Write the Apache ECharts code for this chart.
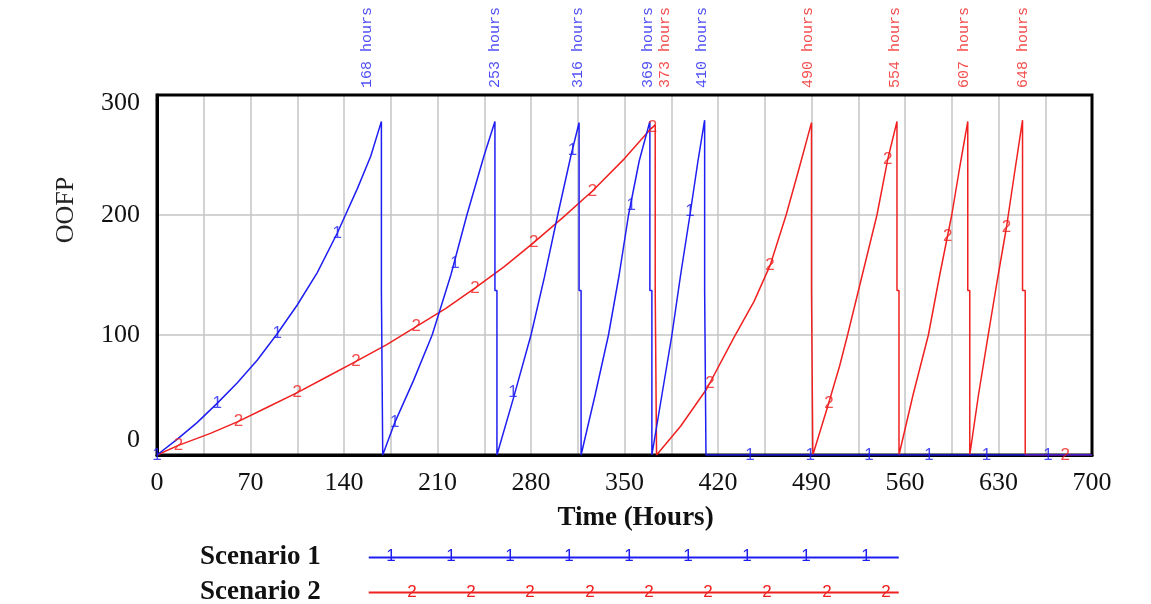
<!DOCTYPE html>
<html><head><meta charset="utf-8">
<script src="https://cdn.jsdelivr.net/npm/echarts@6/dist/echarts.min.js"></script>
<style>html,body{margin:0;padding:0;background:#fff}#c{width:1151px;height:604px}</style>
</head><body><div id="c"></div>
<script>
// ---- data ----
const scenario1Hours = [0,15,30,45,60,75,90,105,120,135,150,160,168,168,169,169,
  178,192,206,220,232,245,253,253,254.5,254.5,
  267,280,290,300,310,316,316,317.5,317.5,
  328,338,346,353,361,369,369,370.5,370.5,
  378,385.5,392,399,405,410,410,411,411,700];
const scenario1OOFP = [0,13,27,43,60,79,101,125,152,185,222,249,278,137,137,0,
  27,62,100,150,200,250,278,137,137,0,
  48,100,148,200,250,277,137,137,0,
  50,100,150,200,245,278,137,137,0,
  50,100,150,200,245,279,137,137,0,0];

const scenario2Hours = [0,16,40,61,83,105,127,149,172,194,216,238,260,282,304,326,350,369,373,373,374,374,
  392,411.5,432,447,459,471,481,490,490,491,491,
  502,511,517,528,539,547,554,554,555.5,555.5,
  566,577.5,586,595,601,607,607,608.5,608.5,
  615,622,629,636,642,648,648,650,650,700];
const scenario2OOFP = [0,8,18,28,40,52,65,78,92,107,122,139,157,177,198,220,247,271,275,137,137,0,
  24,55,98,128,158,200,240,277,137,137,0,
  40,74,100,150,200,246,278,137,137,0,
  50,100,150,200,240,278,137,137,0,
  50,98,145,190,235,279,137,137,0,0];

const scenario1MarkerHours = [0,45,90,135,178,223,266.5,311,355,399,444,489,533,578,621,667];
const scenario1MarkerOOFP  = [0,43,101,185,27,160,52,254,208,203,0,0,0,0,0,0];
const scenario2MarkerHours = [16,61,105,149,194,238,282,326,371,414,459,503,547,592,636,680];
const scenario2MarkerOOFP  = [8,28,52,78,107,139,177,220,273,60,158,43,246,182,190,0];

const scenario1Events = [168,253,316,369,410];
const scenario2Events = [373,490,554,607,648];

const xTicks = [0,70,140,210,280,350,420,490,560,630,700];
const yTicks = [0,100,200,300];

// ---- chart ----
const BLUE = '#1e1ef2', RED = '#f02020';
const serif = "'Liberation Serif','Times New Roman',serif";
const pairs = (a, b) => a.map((t, i) => [t, b[i]]);

function eventSeries(name, hours, color, shifts) {
  // label offset is in the rotated text frame: [along text (up), across text (right)]
  return {
    type: 'scatter', name: name, silent: true, clip: false, z: 6,
    symbolSize: 0,
    data: hours.map((h, i) => ({ value: [h, 300], label: { offset: [0, shifts[i] || 0] } })),
    label: {
      show: true, position: 'top', distance: 7, rotate: 90,
      align: 'left', verticalAlign: 'middle',
      formatter: p => p.value[0] + ' hours',
      color: color, fontFamily: "'Liberation Mono',monospace", fontSize: 15
    }
  };
}
function glyphSeries(name, hours, vals, color, ch) {
  return {
    type: 'scatter', name: name, silent: true, clip: false, z: 5,
    symbolSize: 1, itemStyle: { color: 'rgba(0,0,0,0)' },
    data: pairs(hours, vals),
    label: {
      show: true, position: 'inside', formatter: ch, color: color,
      fontFamily: "'Liberation Sans',Arial,sans-serif", fontSize: 17
    }
  };
}

const chart = echarts.init(document.getElementById('c'));
const legendBlueX = [391,451,510,569,629,688,747,806,866];
const legendRedX  = [412,471,530,590,649,708,767,827,886];
const graphics = [];
legendBlueX.forEach(x => graphics.push({type:'text', x:x, y:556, z:10, style:{text:'1', fill:BLUE, font:"17px 'Liberation Sans'", align:'center', verticalAlign:'middle'}}));
legendRedX.forEach(x => graphics.push({type:'text', x:x, y:592, z:10, style:{text:'2', fill:RED, font:"17px 'Liberation Sans'", align:'center', verticalAlign:'middle'}}));

chart.setOption({
  backgroundColor: '#fff',
  animation: false,
  grid: { left: 157, right: 59, top: 95, bottom: 149, show: true, borderColor: '#000', borderWidth: 3, z: 1 },
  xAxis: {
    type: 'value', min: 0, max: 700, interval: 35, z: 0,
    name: 'Time (Hours)', nameLocation: 'middle', nameGap: 50,
    nameTextStyle: { fontFamily: serif, fontWeight: 'bold', fontSize: 27, color: '#111', padding: [0, 0, 0, 22] },
    axisLine: { lineStyle: { color: '#000', width: 3 } },
    axisTick: { show: false },
    axisLabel: {
      margin: 15, fontFamily: serif, fontSize: 26, color: '#111',
      formatter: v => xTicks.indexOf(v) >= 0 ? String(v) : ''
    },
    splitLine: { lineStyle: { color: '#c4c4c4', width: 1.5 } }
  },
  yAxis: {
    type: 'value', min: 0, max: 300, interval: 100, z: 0,
    name: 'OOFP', nameLocation: 'middle', nameGap: 78,
    nameTextStyle: { fontFamily: serif, fontSize: 26, color: '#222', padding: [0, 0, 0, 130] },
    axisLine: { show: true, lineStyle: { color: '#000', width: 3 } },
    axisTick: { show: false },
    axisLabel: {
      margin: 17, fontFamily: serif, fontSize: 26, color: '#111',
      formatter: v => yTicks.indexOf(v) < 0 ? '' : (v === 0 ? '{lo|0}' : v === 300 ? '{hi|300}' : String(v)),
      rich: {
        lo: { fontFamily: serif, fontSize: 26, color: '#111', padding: [0, 0, 30, 0] },
        hi: { fontFamily: serif, fontSize: 26, color: '#111', padding: [16, 0, 0, 0] }
      }
    },
    splitLine: { lineStyle: { color: '#c4c4c4', width: 1.5 } }
  },
  legend: {
    data: ['Scenario 1', 'Scenario 2'],
    orient: 'vertical', left: 195, top: 539, height: 70, align: 'right',
    icon: 'rect', itemWidth: 530, itemHeight: 2, itemGap: 8,
    textStyle: { fontFamily: serif, fontWeight: 'bold', fontSize: 27, lineHeight: 22, color: '#111', padding: [0, 43, 0, 0] }
  },
  graphic: graphics,
  series: [
    { type: 'line', name: 'Scenario 2', data: pairs(scenario2Hours, scenario2OOFP), symbol: 'none',
      lineStyle: { color: RED, width: 1.5 }, itemStyle: { color: RED }, z: 3 },
    { type: 'line', name: 'Scenario 1', data: pairs(scenario1Hours, scenario1OOFP), symbol: 'none',
      lineStyle: { color: BLUE, width: 1.5 }, itemStyle: { color: BLUE }, z: 4 },
    glyphSeries('s1 markers', scenario1MarkerHours, scenario1MarkerOOFP, BLUE, '1'),
    glyphSeries('s2 markers', scenario2MarkerHours, scenario2MarkerOOFP, RED, '2'),
    eventSeries('s1 events', scenario1Events, BLUE, [-14, 0, -1, -2, -3]),
    eventSeries('s2 events', scenario2Events, RED, [10, -3, -2, -4, 0])
  ]
});
</script></body></html>
